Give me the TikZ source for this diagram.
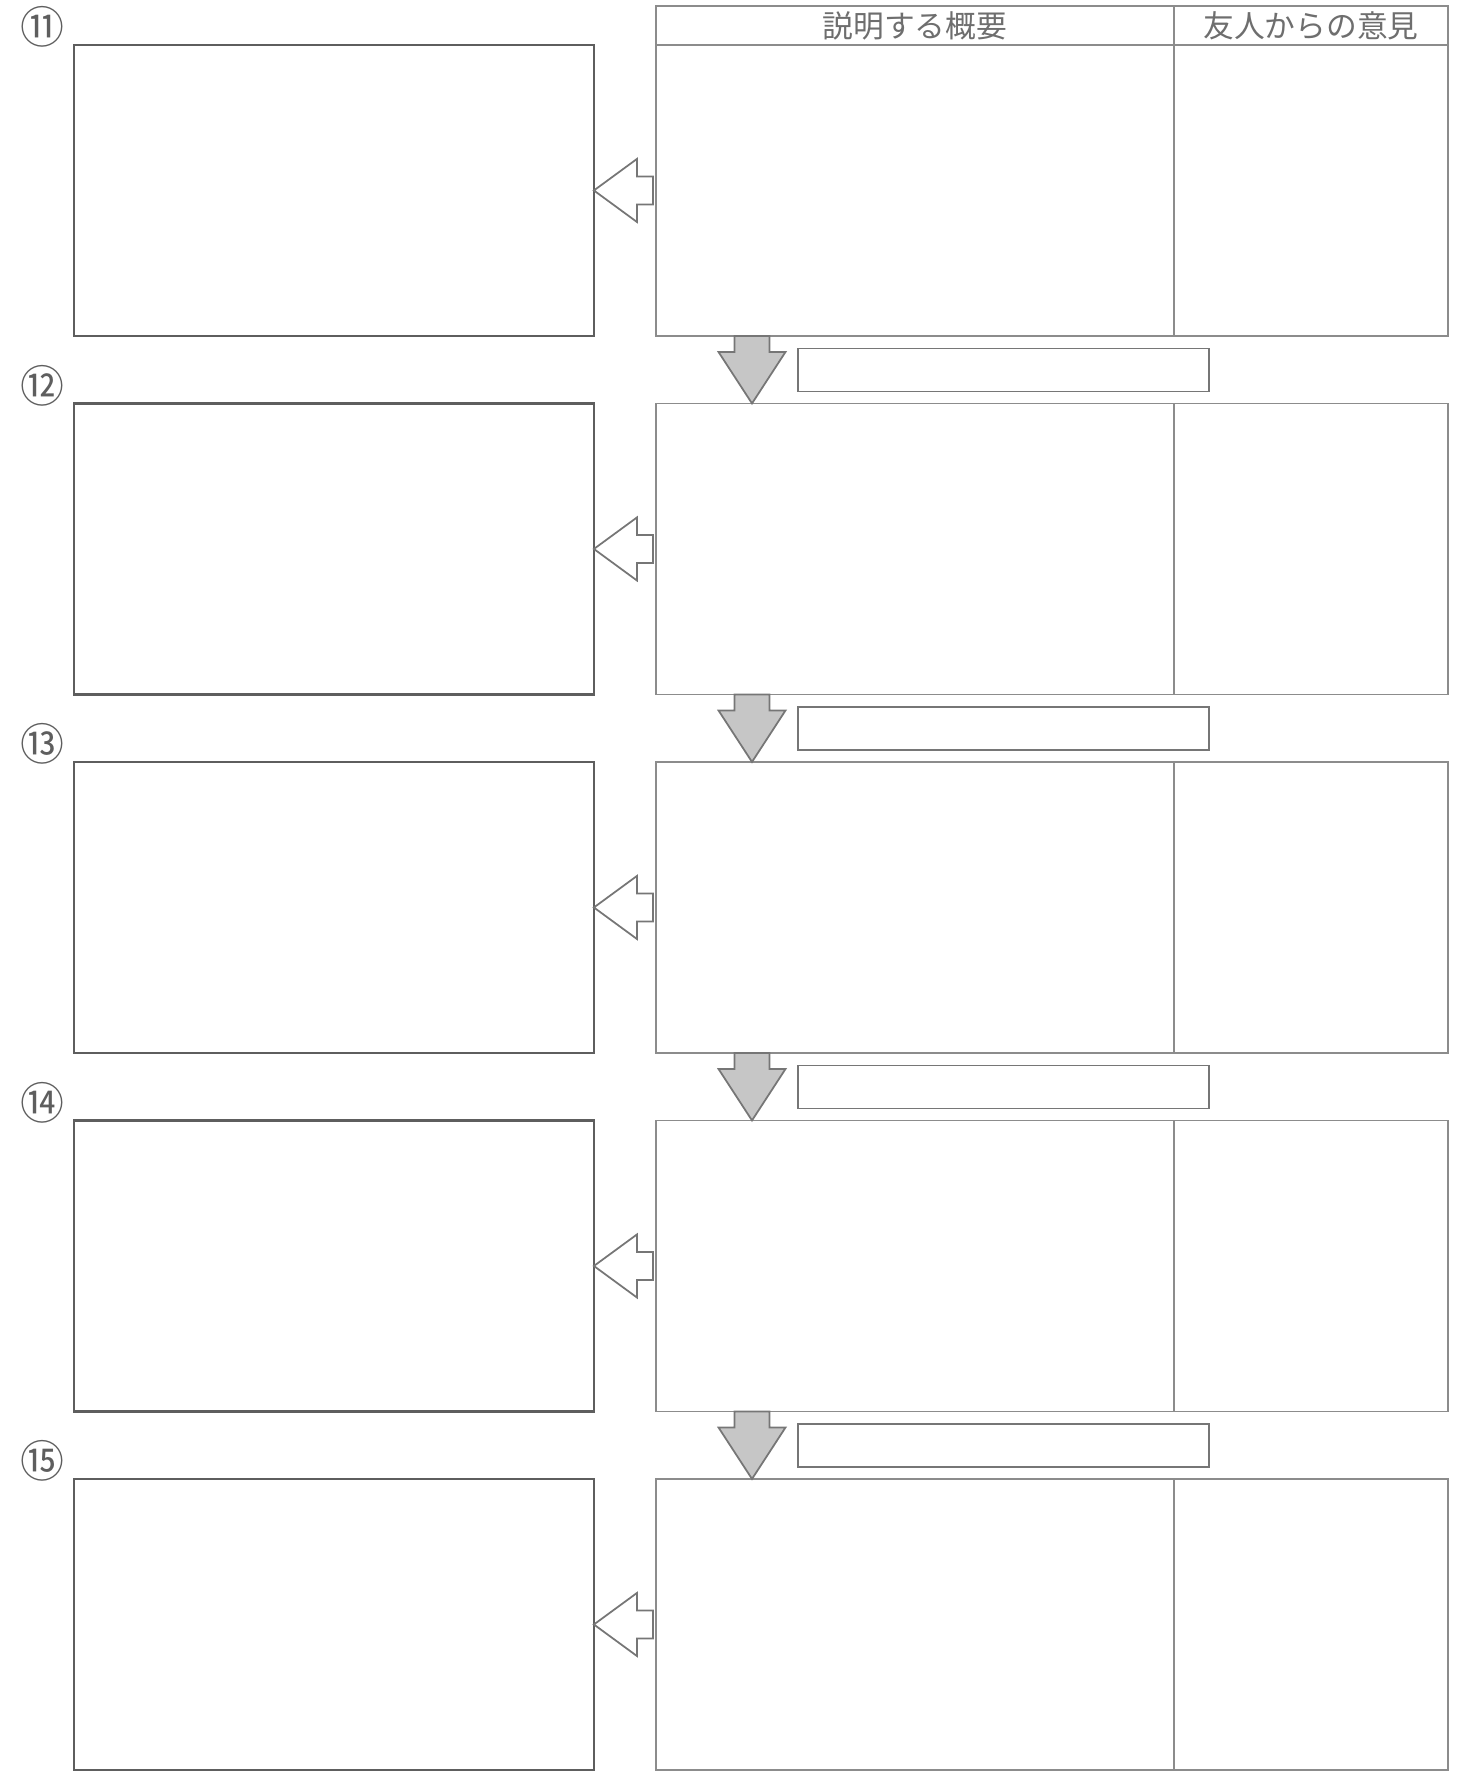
\documentclass[tikz,border=0pt]{standalone}
\usepackage{fontspec}
\setmainfont{Noto Sans CJK JP}
\usepackage{tikz}
\usetikzlibrary{
  positioning,
  calc,
}
\definecolor{frameDark}{HTML}{5E5E5E}
\definecolor{frameLight}{HTML}{8C8C8C}
\definecolor{arrowLine}{HTML}{767676}
\definecolor{arrowFill}{HTML}{C6C6C6}
\definecolor{headText}{HTML}{6E6E6E}

\begin{document}
\begin{tikzpicture}[x=0.02cm, y=0.02cm,
  sketchbox/.style={draw=frameDark, line width=1.6pt, outer sep=0pt,
    inner sep=0pt, minimum width=10.4cm, minimum height=5.82cm},
  cellbox/.style={draw=frameLight, line width=0.8pt, outer sep=0pt,
    inner sep=0pt, minimum height=5.82cm},
  headcell/.style={draw=frameLight, line width=0.8pt, outer sep=0pt,
    inner sep=0pt, minimum height=0.78cm, text=headText,
    font=\fontsize{17.5}{19}\selectfont},
  blankbox/.style={draw=arrowLine, line width=1pt, outer sep=0pt,
    inner sep=0pt, minimum width=8.22cm, minimum height=0.86cm},
  pointer/.style={draw=arrowLine, line width=1pt, fill=white},
  downarrow/.style={draw=arrowLine, line width=1pt, fill=arrowFill},
  numlabel/.style={text=frameDark, inner sep=0pt,
    font=\fontsize{25}{27}\selectfont},
]

\useasboundingbox (0,0) rectangle (1459,-1773);

% one row per step: sketch on the left, outline / opinion table on the right
\foreach \n/\mark [count=\i from 0] in {11/⑪, 12/⑫, 13/⑬, 14/⑭, 15/⑮}
{
  \pgfmathsetmacro{\rowtop}{-45-358.5*\i}
  \node[sketchbox, anchor=north west] (sketch\n) at (74, \rowtop) {};
  \node[cellbox, minimum width=10.36cm, anchor=north west]
    (outline\n) at (656, \rowtop) {};
  \node[cellbox, minimum width=5.48cm, right=0pt of outline\n] (opinion\n) {};
  \node[numlabel] (num\n) at ($(sketch\n.north west)+(-32,18)$) {\mark};
  % hollow arrow pointing back to the sketch
  \draw[pointer] (sketch\n.east) -- ++(43,31.5) -- ++(0,-17.5) -- ++(16,0)
    -- ++(0,-28) -- ++(-16,0) -- ++(0,-17.5) -- cycle;
}

% header over the first table
\node[headcell, minimum width=10.36cm, above=0pt of outline11]
  (headOutline) {説明する概要};
\node[headcell, minimum width=5.48cm, above=0pt of opinion11]
  (headOpinion) {友人からの意見};

% grey down arrows between the tables, with a blank field beside each
\foreach \n in {11,...,14}
{
  \draw[downarrow] ($(outline\n.south west)+(78.5,0)$) -- ++(0,-16)
    -- ++(-16,0) -- ++(33.5,-51.5) -- ++(33.5,51.5) -- ++(-16,0)
    -- ++(0,16) -- cycle;
  \node[blankbox, anchor=west] (blank\n)
    at ($(outline\n.south west)+(142,-34)$) {};
}

\end{tikzpicture}
\end{document}
